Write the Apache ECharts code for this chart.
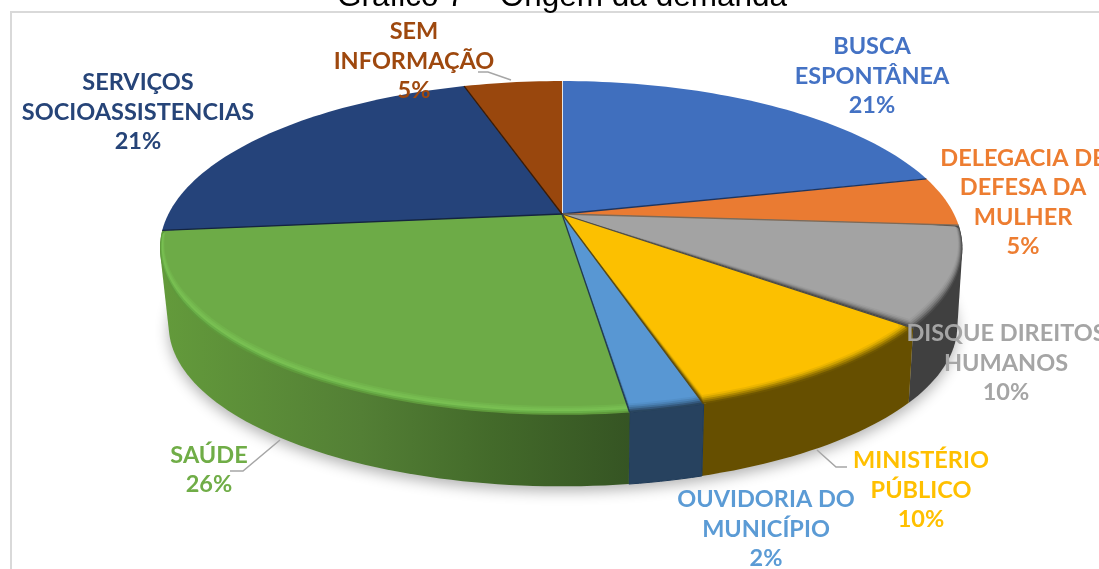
<!DOCTYPE html>
<html>
<head>
<meta charset="utf-8">
<style>html,body{margin:0;padding:0;background:#fff}#c{width:1099px;height:569px}</style>
<script src="https://cdn.jsdelivr.net/npm/echarts@6/dist/echarts.min.js"></script>
</head>
<body>
<div id="c"></div>
<script>
// ---- data ----
const titleText = 'Gráfico 7 – Origem da demanda';
const categories = ['BUSCA\nESPONTÂNEA', 'DELEGACIA DE\nDEFESA DA\nMULHER', 'DISQUE DIREITOS\nHUMANOS', 'MINISTÉRIO\nPÚBLICO', 'OUVIDORIA DO\nMUNICÍPIO', 'SAÚDE', 'SERVIÇOS\nSOCIOASSISTENCIAS', 'SEM\nINFORMAÇÃO'];
const shares = [21.3, 4.8, 9.6, 9.6, 2.5, 25.6, 21.8, 4.8];
const percentLabels = ['21%', '5%', '10%', '10%', '2%', '26%', '21%', '5%'];

// ---- styles ----
const faceColors = ['#406fbe', '#ea7b32', '#a3a3a3', '#fcc000', '#5897d3', '#6dab47', '#25437a', '#99470d'];
const textColors = ['#4472c4', '#ed7d31', '#a5a5a5', '#ffc000', '#5b9bd5', '#70ad47', '#264478', '#9e480e'];
const wallColors = [null, null, '#404040', '#664f00', '#27425f', 'gradient', null, null];
const edgeColors = ['#e6e6e6', '#1d3560', '#7d6a58', '#4a4a4a', '#5c4a10', '#223a50', '#14243f', '#3a1a04'];
const bevels = [
  [], [],
  ['#4c4c4c', '#666666', '#7d7d7d', '#8f8f8f', '#9c9c9c'],
  ['#6e5600', '#8a6c00', '#ab8500', '#cfa200', '#ecb500'],
  ['#29455f', '#34587c', '#40709c', '#4b82b6', '#5390c9'],
  ['#5f9a3c', '#6aaf48', '#79c052', '#76bb50', '#71b34b'],
  [], []
];
const total = shares.reduce((a, b) => a + b, 0);
const starts = [];
shares.reduce((acc, v, i) => { starts[i] = acc; return acc + v; }, 0);

// ---- perspective disc projection ----
const CX = 562, K = 0.2035;
const TOP = { y0: 214, a: 160, bL: 393.6, bR: 392 };
const BOT = { y0: 293, a: 154, bL: 385, bR: 387 };
function proj(theta, p) {
  const X = Math.sin(theta), Y = Math.cos(theta), d = 1 + K * Y;
  return [CX + (X < 0 ? p.bL : p.bR) * X / d, p.y0 - p.a * Y / d];
}
function angle(pct) { return pct / total * Math.PI * 2; }
function arcAngles(i) {
  const a0 = angle(starts[i]), a1 = angle(starts[i] + shares[i]);
  const n = Math.max(6, Math.ceil((a1 - a0) * 40));
  const out = [];
  for (let j = 0; j <= n; j++) out.push(a0 + (a1 - a0) * j / n);
  return out;
}
function hull(pts) {
  const s = pts.slice().sort((p, q) => p[0] - q[0] || p[1] - q[1]);
  const cr = (o, a, b) => (a[0] - o[0]) * (b[1] - o[1]) - (a[1] - o[1]) * (b[0] - o[0]);
  const lo = [], up = [];
  s.forEach(p => { while (lo.length > 1 && cr(lo[lo.length - 2], lo[lo.length - 1], p) <= 0) lo.pop(); lo.push(p); });
  s.slice().reverse().forEach(p => { while (up.length > 1 && cr(up[up.length - 2], up[up.length - 1], p) <= 0) up.pop(); up.push(p); });
  return lo.slice(0, -1).concat(up.slice(0, -1));
}
const apex = [CX, TOP.y0];
function side(E, P) { return (E[0] - apex[0]) * (P[1] - apex[1]) - (E[1] - apex[1]) * (P[0] - apex[0]); }
function clampToEdge(E, P) {
  return [apex[0] + (E[0] - apex[0]) * (P[1] - apex[1]) / (E[1] - apex[1]), P[1]];
}

function renderBase() {
  const pts = [];
  for (let j = 0; j < 180; j++) pts.push(proj(j / 180 * Math.PI * 2, BOT));
  return { type: 'polygon', shape: { points: pts }, style: { fill: '#cfcfcf', shadowBlur: 14, shadowColor: 'rgba(0,0,0,0.30)', shadowOffsetY: 5 } };
}
function renderWall(params) {
  const i = params.dataIndex;
  if (!wallColors[i]) return null;
  const as = arcAngles(i);
  const pts = hull(as.map(t => proj(t, TOP)).concat(as.map(t => proj(t, BOT))));
  let fill = wallColors[i];
  if (fill === 'gradient') {
    fill = new echarts.graphic.LinearGradient(165, 0, 632, 0, [
      { offset: 0, color: '#639a3b' }, { offset: 0.42, color: '#537f35' },
      { offset: 0.7, color: '#436a2a' }, { offset: 1, color: '#355423' }
    ], true);
  }
  return { type: 'polygon', shape: { points: pts }, style: { fill: fill, stroke: i === 4 ? '#1e3a58' : null, lineWidth: 1 } };
}
function renderFace(params) {
  const i = params.dataIndex, as = arcAngles(i), children = [];
  const levels = bevels[i].concat([faceColors[i]]);
  const E0 = proj(as[0], TOP), E1 = proj(as[as.length - 1], TOP);
  levels.forEach((color, l) => {
    const t = levels.length > 1 ? l / (levels.length - 1) : 0;
    const pts = [apex].concat(as.map(th => {
      const p = proj(th, TOP);
      const f = Math.max(0, Math.min(1, -Math.cos(th) * 1.6 + 0.15));
      let q = [CX + (p[0] - CX) * (1 - 0.011 * t), p[1] - 9 * t * f];
      if (t > 0 && side(E0, q) < 0) q = clampToEdge(E0, q);
      if (t > 0 && side(E1, q) > 0) q = clampToEdge(E1, q);
      return q;
    }));
    children.push({ type: 'polygon', shape: { points: pts }, style: { fill: color } });
  });
  children.push({ type: 'line', shape: { x1: apex[0], y1: apex[1], x2: E0[0], y2: E0[1] }, style: { stroke: edgeColors[i], lineWidth: i === 0 ? 2 : 1.3 } });
  return { type: 'group', children: children };
}
const labelCenters = [[872, 76], [1023, 202.5], [1006, 363], [921, 490], [766, 529], [209, 470], [138, 112], [414, 61]];
function renderLabel(params) {
  const i = params.dataIndex;
  return {
    type: 'text',
    style: {
      text: categories[i] + '\n' + percentLabels[i],
      x: labelCenters[i][0], y: labelCenters[i][1],
      align: 'center', verticalAlign: 'middle',
      font: 'bold 23.5px Lato', lineHeight: 29.3, fill: textColors[i]
    }
  };
}
const data = categories.map((c, i) => ({ name: c, value: shares[i] }));
const leader = pts => ({ type: 'polyline', z: 20, silent: true, shape: { points: pts }, style: { fill: null, stroke: '#a6a6a6', lineWidth: 1.5 } });

const chart = echarts.init(document.getElementById('c'), null, { renderer: 'canvas' });
chart.setOption({
  animation: false,
  backgroundColor: '#fff',
  title: { text: titleText, left: 557, top: -24, textAlign: 'center', textStyle: { fontFamily: 'Liberation Sans', fontWeight: 'normal', fontSize: 31.5, color: '#000' } },
  graphic: [
    { type: 'polyline', silent: true, shape: { points: [[11, 569], [11, 12], [1099, 12]] }, style: { fill: null, stroke: '#d9d9d9', lineWidth: 2 } },
    leader([[280, 440], [243, 471], [230, 471]]),
    leader([[478, 72], [488, 72], [511, 80]]),
    leader([[817, 450], [836, 467], [847, 467]])
  ],
  series: [
    { type: 'custom', coordinateSystem: 'none', z: 1, silent: true, data: [0], renderItem: renderBase },
    { type: 'custom', coordinateSystem: 'none', z: 2, silent: true, data: data, renderItem: renderWall },
    { type: 'custom', coordinateSystem: 'none', z: 3, silent: true, data: data, renderItem: renderFace },
    { type: 'custom', coordinateSystem: 'none', z: 5, silent: true, data: data, renderItem: renderLabel }
  ]
});
</script>
</body>
</html>
